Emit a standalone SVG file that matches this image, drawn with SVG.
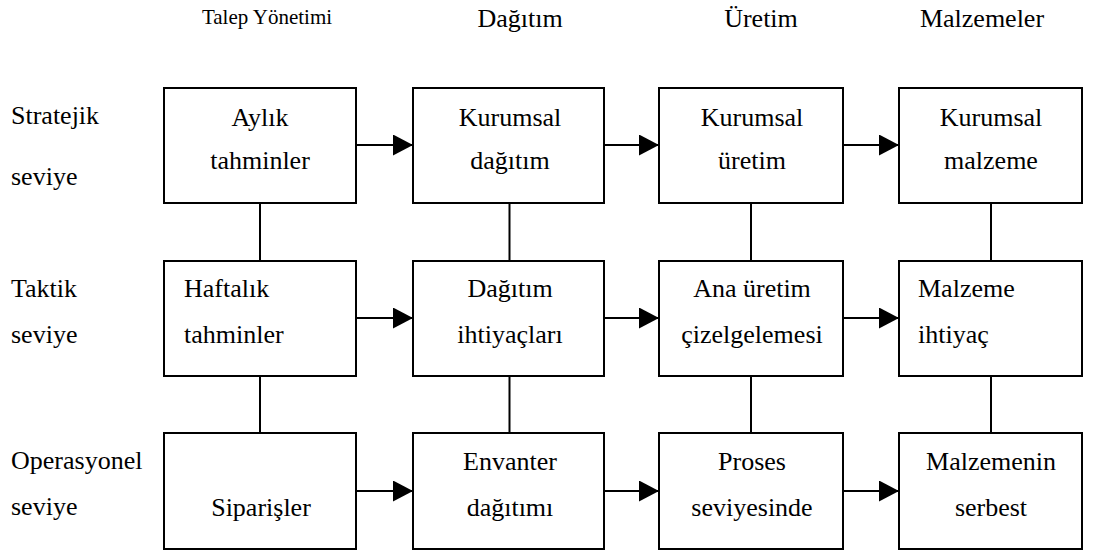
<svg xmlns="http://www.w3.org/2000/svg" width="1105" height="552" viewBox="0 0 1105 552" font-family="Liberation Serif, Tinos, DejaVu Serif, serif">
<style>
text{font-family:'Liberation Serif','Tinos','DejaVu Serif',serif;font-size:26px;fill:#000}
.c{text-anchor:middle}
.small{font-size:21px}
rect{fill:#fff;stroke:#000;stroke-width:2}
.ln{stroke:#000;stroke-width:2;fill:none}
</style>
<defs>
<marker id="ah" markerUnits="userSpaceOnUse" markerWidth="21" markerHeight="22" refX="20" refY="10.5" orient="auto" viewBox="0 0 21 22">
<path d="M0,0 L20,10.5 L0,21 z" fill="#000"/>
</marker>
</defs>
<g id="headers">
<text class="c small" x="267" y="24">Talep Yönetimi</text>
<text class="c" x="520" y="27">Dağıtım</text>
<text class="c" x="761" y="27">Üretim</text>
<text class="c" x="982" y="27">Malzemeler</text>
</g>
<g id="levels">
<text x="11" y="124">Stratejik</text>
<text x="11" y="185">seviye</text>
<text x="11" y="297">Taktik</text>
<text x="11" y="343">seviye</text>
<text x="11" y="469">Operasyonel</text>
<text x="11" y="515">seviye</text>
</g>
<g id="connectors">
<line class="ln" x1="260" y1="203" x2="260" y2="261"/>
<line class="ln" x1="260" y1="376" x2="260" y2="433"/>
<line class="ln" x1="509.5" y1="203" x2="509.5" y2="261"/>
<line class="ln" x1="509.5" y1="376" x2="509.5" y2="433"/>
<line class="ln" x1="751" y1="203" x2="751" y2="261"/>
<line class="ln" x1="751" y1="376" x2="751" y2="433"/>
<line class="ln" x1="991" y1="203" x2="991" y2="261"/>
<line class="ln" x1="991" y1="376" x2="991" y2="433"/>
<line class="ln" x1="356" y1="145" x2="413" y2="145" marker-end="url(#ah)"/>
<line class="ln" x1="604" y1="145" x2="659" y2="145" marker-end="url(#ah)"/>
<line class="ln" x1="843" y1="145" x2="899" y2="145" marker-end="url(#ah)"/>
<line class="ln" x1="356" y1="318" x2="413" y2="318" marker-end="url(#ah)"/>
<line class="ln" x1="604" y1="318" x2="659" y2="318" marker-end="url(#ah)"/>
<line class="ln" x1="843" y1="318" x2="899" y2="318" marker-end="url(#ah)"/>
<line class="ln" x1="356" y1="491" x2="413" y2="491" marker-end="url(#ah)"/>
<line class="ln" x1="604" y1="491" x2="659" y2="491" marker-end="url(#ah)"/>
<line class="ln" x1="843" y1="491" x2="899" y2="491" marker-end="url(#ah)"/>
</g>
<g id="n11"><rect x="164" y="88" width="192" height="115"/><text class="c" x="260" y="126">Aylık</text><text class="c" x="260" y="169">tahminler</text></g>
<g id="n12"><rect x="413" y="88" width="191" height="115"/><text class="c" x="510" y="126">Kurumsal</text><text class="c" x="510" y="169">dağıtım</text></g>
<g id="n13"><rect x="659" y="88" width="184" height="115"/><text class="c" x="752" y="126">Kurumsal</text><text class="c" x="752" y="169">üretim</text></g>
<g id="n14"><rect x="899" y="88" width="183" height="115"/><text class="c" x="991" y="126">Kurumsal</text><text class="c" x="991" y="169">malzeme</text></g>
<g id="n21"><rect x="164" y="261" width="192" height="115"/><text x="184" y="297">Haftalık</text><text x="184" y="343">tahminler</text></g>
<g id="n22"><rect x="413" y="261" width="191" height="115"/><text class="c" x="510" y="297">Dağıtım</text><text class="c" x="510" y="343">ihtiyaçları</text></g>
<g id="n23"><rect x="659" y="261" width="184" height="115"/><text class="c" x="752" y="297">Ana üretim</text><text class="c" x="752" y="343">çizelgelemesi</text></g>
<g id="n24"><rect x="899" y="261" width="183" height="115"/><text x="918" y="297">Malzeme</text><text x="918" y="343">ihtiyaç</text></g>
<g id="n31"><rect x="164" y="433" width="192" height="116"/><text class="c" x="261" y="516">Siparişler</text></g>
<g id="n32"><rect x="413" y="433" width="191" height="116"/><text class="c" x="510" y="470">Envanter</text><text class="c" x="510" y="516">dağıtımı</text></g>
<g id="n33"><rect x="659" y="433" width="184" height="116"/><text class="c" x="752" y="470">Proses</text><text class="c" x="752" y="516">seviyesinde</text></g>
<g id="n34"><rect x="899" y="433" width="183" height="116"/><text class="c" x="991" y="470">Malzemenin</text><text class="c" x="991" y="516">serbest</text></g>
</svg>
